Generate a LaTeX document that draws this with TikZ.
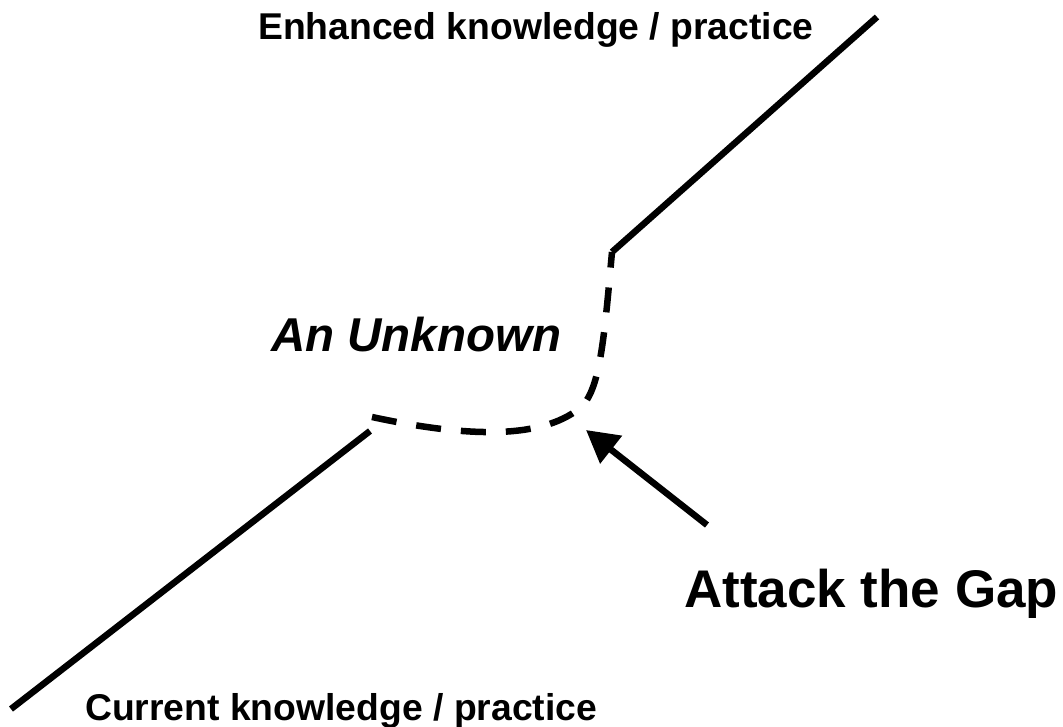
\documentclass[tikz,border=0pt]{standalone}
\usepackage{fontspec}
\setmainfont{Liberation Sans}
\usetikzlibrary{arrows.meta}
\tikzset{
  thick line/.style={line width=6.5pt, line cap=butt},
  gap dash/.style={line width=6.5pt, line cap=butt, dash pattern=on 25pt off 20pt},
  lbl/.style={anchor=base west, inner sep=0pt, font=\bfseries\fontsize{37.3}{44}\selectfont},
}
\begin{document}
\begin{tikzpicture}[x=1pt, y=-1pt]
\useasboundingbox (0,0) rectangle (1063,727);
% coordinates
\coordinate (curA) at (11,709);
\coordinate (curB) at (370,431);
\coordinate (enhA) at (612,252);
\coordinate (enhB) at (877,17);
\coordinate (gapS) at (372,417);
\coordinate (gapK) at (580,408);
\coordinate (arrT) at (707,525);
\coordinate (arrH) at (586,430);
% lines
\draw[thick line] (curA) -- (curB);
\draw[thick line] (enhA) -- (enhB);
\draw[gap dash] (gapS) .. controls (465,437) and (540,440) .. (gapK)
  .. controls (600,391) and (604,340) .. (enhA);
\draw[line width=6.5pt, -{Triangle[length=32pt,width=34pt]}] (arrT) -- (arrH);
% labels
\node[lbl] (enh) at (258,40) {Enhanced knowledge / practice};
\node[lbl] (cur) at (85,720) {Current knowledge / practice};
\node[anchor=base west, inner sep=0pt, font=\bfseries\itshape\fontsize{47.5}{56}\selectfont] (unk) at (271,352) {An Unknown};
\node[anchor=base west, inner sep=0pt, font=\bfseries\fontsize{53}{62}\selectfont] (gap) at (684,607) {Attack the Gap};
\end{tikzpicture}
\end{document}
